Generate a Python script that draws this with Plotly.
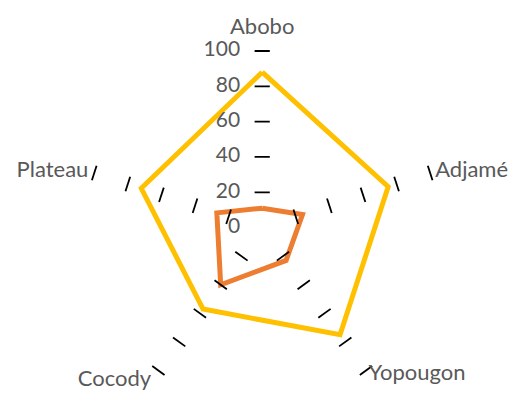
import math
import plotly.graph_objects as go

categories = ["Abobo", "Adjamé", "Yopougon", "Cocody", "Plateau"]
series_yellow = [88, 75, 75, 57, 72]
series_orange = [11, 24, 23, 40, 27]
radial_ticks = [0, 20, 40, 60, 80, 100]

GRAY = "#595959"
FONT = "Lato"
SCALE = 1.766           # px per radial unit
CX, CY = 254.2, 219.6   # polar centre inside the figure (page adds 8px body margin)
FIG_W, FIG_H = 523, 460
R_MAX = 120.0           # radial range; leaves room for the category labels
DASH_HALF = 4.3         # half length of the perpendicular tick dashes, radial units
LABEL_OFF = 12.5        # horizontal offset of the radial tick labels, radial units
CAT_LABEL_R = [112.5, 103, 102.5, 107, 103.5]
CAT_LABEL_POS = ["middle center", "middle right", "middle right", "middle left", "middle left"]

n = len(categories)
step = 360.0 / n
cat_angles = [i * step for i in range(n)]


def closed(vals):
    return list(vals) + [vals[0]]


fig = go.Figure()

fig.add_trace(go.Scatterpolar(
    r=closed(series_yellow), theta=closed(cat_angles), mode="lines",
    line=dict(color="#FFC000", width=5),
    hoverinfo="skip", showlegend=False))
fig.add_trace(go.Scatterpolar(
    r=closed(series_orange), theta=closed(cat_angles), mode="lines",
    line=dict(color="#ED7D31", width=5),
    hoverinfo="skip", showlegend=False))

# perpendicular tick dashes on every spoke (axis decoration)
dr, dt = [], []
for ang in cat_angles:
    for lv in radial_ticks[1:]:
        rr = math.hypot(lv, DASH_HALF)
        da = math.degrees(math.atan2(DASH_HALF, lv))
        dr += [rr, rr, None]
        dt += [ang - da, ang + da, None]
fig.add_trace(go.Scatterpolar(
    r=dr, theta=dt, mode="lines",
    line=dict(color="black", width=1.8),
    hoverinfo="skip", showlegend=False))

# radial tick labels, placed left of the top spoke
lr, lt = [], []
for lv in radial_ticks:
    lr.append(math.hypot(lv, LABEL_OFF))
    lt.append(-math.degrees(math.atan2(LABEL_OFF, lv)))
fig.add_trace(go.Scatterpolar(
    r=lr, theta=lt, mode="text", text=[str(v) for v in radial_ticks],
    textposition="middle left", textfont=dict(family=FONT, size=21, color=GRAY),
    marker=dict(size=0), cliponaxis=False, hoverinfo="skip", showlegend=False))

# category labels
fig.add_trace(go.Scatterpolar(
    r=CAT_LABEL_R, theta=cat_angles,
    mode="text", text=categories, textposition=CAT_LABEL_POS,
    textfont=dict(family=FONT, size=22, color=GRAY),
    marker=dict(size=0), cliponaxis=False, hoverinfo="skip", showlegend=False))

rad_px = R_MAX * SCALE
dom_x = [(CX - rad_px) / FIG_W, (CX + rad_px) / FIG_W]
dom_y = [(FIG_H - (CY + rad_px)) / FIG_H, (FIG_H - (CY - rad_px)) / FIG_H]

fig.update_layout(
    width=FIG_W, height=FIG_H,
    margin=dict(l=0, r=0, t=0, b=0),
    paper_bgcolor="white", plot_bgcolor="white",
    showlegend=False,
    polar=dict(
        domain=dict(x=dom_x, y=dom_y),
        bgcolor="rgba(0,0,0,0)",
        gridshape="linear",
        radialaxis=dict(range=[0, R_MAX], showgrid=False, showline=False,
                        showticklabels=False, ticks=""),
        angularaxis=dict(type="linear", thetaunit="degrees",
                         direction="clockwise", rotation=90, showgrid=False,
                         showline=False, showticklabels=False, ticks=""),
    ),
)

fig.write_html("out.html")
